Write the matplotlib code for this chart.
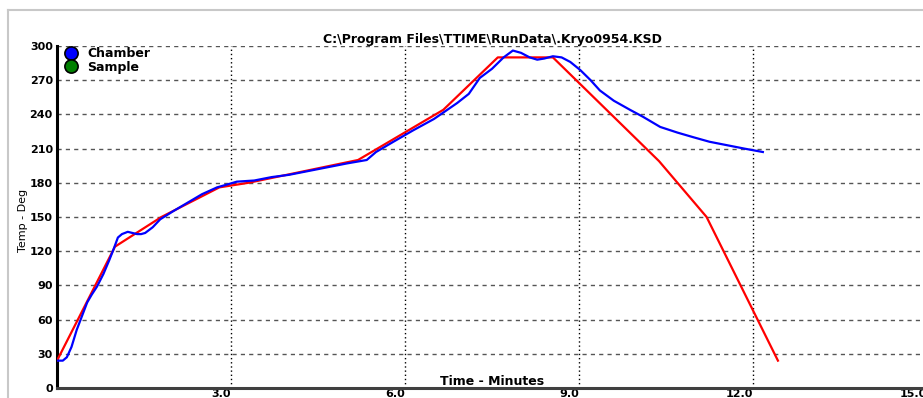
import matplotlib
matplotlib.use('Agg')
import matplotlib.pyplot as plt
from matplotlib.lines import Line2D

title = 'C:\\Program Files\\TTIME\\RunData\\.Kryo0954.KSD'

# setpoint (red)
set_t = [0, 1.0, 1.8, 2.8, 3.3, 5.19, 6.66, 7.6, 8.55, 10.38, 11.2, 12.43]
set_y = [24, 124, 150, 176, 180, 200, 244, 290, 290, 199, 150, 24]

# chamber temperature (blue)
chamber_t = [0, 0.1, 0.17, 0.25, 0.34, 0.43, 0.52, 0.6, 0.69, 0.8, 0.9, 0.97,
             1.05, 1.12, 1.22, 1.3, 1.38, 1.45, 1.52, 1.65, 1.78, 2.0, 2.3, 2.5,
             2.76, 2.9, 3.1, 3.4, 3.7, 4.0, 4.5, 5.0, 5.34, 5.5, 5.8, 6.14, 6.5,
             6.9, 7.1, 7.29, 7.5, 7.7, 7.86, 8.0, 8.15, 8.28, 8.4, 8.55, 8.7,
             8.85, 9.02, 9.2, 9.36, 9.6, 9.88, 10.1, 10.4, 10.7, 10.97, 11.25,
             11.55, 11.85, 12.17]
chamber_y = [24, 24, 27, 36, 51, 63, 75, 82, 89, 100, 112, 121,
             132, 135, 137, 136, 135, 135, 136, 141, 148, 155, 164, 170,
             176, 178, 181, 182, 185, 187, 192, 197, 200, 207, 216, 226, 236,
             250, 258, 272, 280, 290, 296, 294, 290, 288, 289, 291, 290,
             286, 279, 270, 261, 252, 244, 238, 229, 224, 220, 216,
             213, 210, 207]

legend_names = ['Chamber', 'Sample']
legend_colors = ['#0000ff', '#008000']

x_ticks = [3, 6, 9, 12, 15]
x_labels = ['3.0', '6.0', '9.0', '12.0', '15.0']
y_ticks = list(range(0, 301, 30))

plt.rcParams['font.family'] = ['DejaVu Sans']

W, H = 923, 398
fig = plt.figure(figsize=(W / 100, H / 100), dpi=100)
ax = fig.add_axes([57 / W, (H - 388) / H, 870 / W, 342 / H])

ax.plot(set_t, set_y, color='#ff0000', lw=1.6, zorder=3)
ax.plot(chamber_t, chamber_y, color='#0000ff', lw=1.6, zorder=4)

ax.set_xlim(0, 15)
ax.set_ylim(0, 300)
ax.set_xticks(x_ticks)
ax.set_xticklabels(x_labels, ha='right', fontsize=8, fontweight='bold')
ax.set_yticks(y_ticks)
ax.set_yticklabels([str(v) for v in y_ticks], fontsize=8, fontweight='bold')
ax.tick_params(length=0, pad=3)
ax.tick_params(axis='x', pad=0.5)

ax.xaxis.grid(True, color='black', linestyle=(0, (1, 2)), lw=1)
ax.yaxis.grid(True, color='#555555', linestyle=(0, (3, 3)), lw=1)
ax.set_axisbelow(True)

for s in ['top', 'right']:
    ax.spines[s].set_visible(False)
ax.spines['left'].set_linewidth(2.2)
ax.spines['left'].set_color('black')
ax.spines['bottom'].set_linewidth(2.2)
ax.spines['bottom'].set_color('#404040')

ax.set_title(title, fontsize=9, fontweight='bold', pad=2, x=0.5)
ax.text(0.5, 0.0, 'Time - Minutes', transform=ax.transAxes, ha='center',
        va='bottom', fontsize=9, fontweight='bold')
fig.text(23 / W, 1 - 220 / H, 'Temp - Deg', rotation=90, ha='center', va='center',
         fontsize=8, family=['Liberation Sans Narrow', 'DejaVu Sans'])

handles = [Line2D([], [], marker='o', ls='none', markersize=9.5,
                  markerfacecolor=c, markeredgecolor='black', markeredgewidth=1.2)
           for c in legend_colors]
leg = ax.legend(handles, legend_names, loc='upper left', bbox_to_anchor=(0.0, 1.012),
                frameon=False, handletextpad=0.5, labelspacing=0.05, borderaxespad=0,
                handlelength=1.5, prop={'size': 9, 'weight': 'bold'})

# window frame lines
fig.add_artist(Line2D([8 / W, 8 / W], [0, 1 - 10 / H], color='#c8c8c8', lw=1.5))
fig.add_artist(Line2D([8 / W, 1], [1 - 10 / H, 1 - 10 / H], color='#c8c8c8', lw=1.5))

fig.savefig('out.png', dpi=100)
